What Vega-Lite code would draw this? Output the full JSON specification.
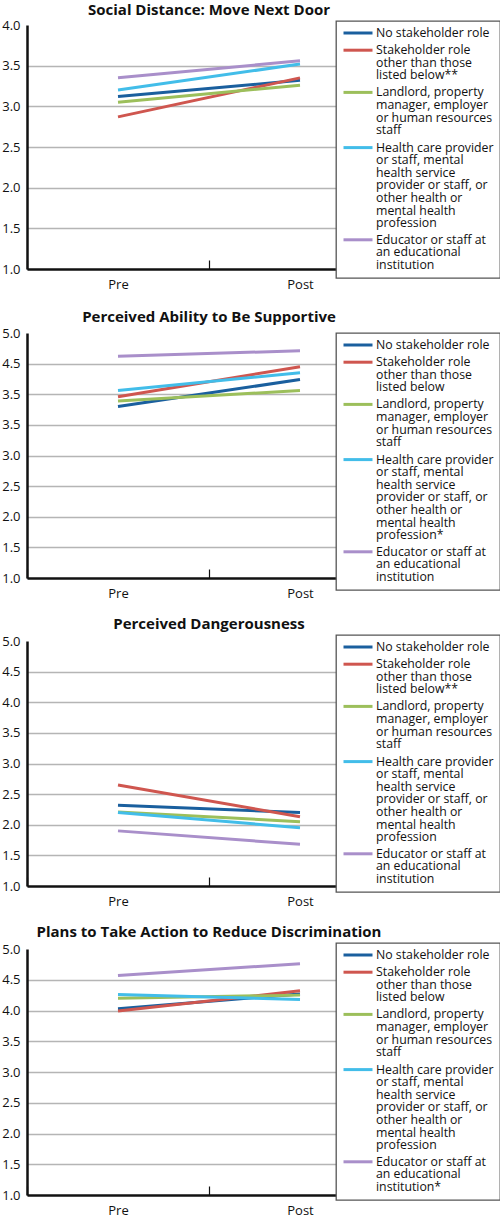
{
  "$schema": "https://vega.github.io/schema/vega-lite/v6.json",
  "background": "white",
  "padding": {"left": 1, "top": 2, "right": 2, "bottom": 0},
  "config": {
    "font": "Open Sans",
    "view": {"stroke": null},
    "axis": {"labelFont": "Open Sans", "labelFontSize": 13, "labelColor": "#111111", "title": null},
    "axisY": {"grid": true, "gridWidth": 1.5, "domainColor": "#111111", "domainWidth": 2.5, "ticks": false, "labelPadding": 7},
    "axisX": {"grid": false, "domainColor": "#111111", "domainWidth": 2.5, "tickBand": "extent", "tickSize": -9, "tickColor": "#111111", "tickWidth": 1.2, "labelPadding": 18, "labelAngle": 0},
    "title": {"font": "Open Sans", "fontSize": 15, "fontWeight": "bold", "anchor": "middle", "color": "#111111", "offset": 2.5},
    "legend": {
      "orient": "none", "title": null, "fillColor": "white", "strokeColor": "#555555", "padding": 6,
      "symbolType": "stroke", "symbolSize": 841, "symbolStrokeWidth": 3, "symbolOffset": 0,
      "labelOffset": 2, "labelFont": "Open Sans", "labelFontSize": 12.3, "labelColor": "#111111",
      "labelBaseline": "top", "labelLimit": 200, "rowPadding": 4.2
    }
  },
  "data": {"values": [
    {"panel": 1, "role": "No stakeholder role", "time": "Pre", "score": 3.12},
    {"panel": 1, "role": "No stakeholder role", "time": "Post", "score": 3.32},
    {"panel": 1, "role": "Stakeholder role other than those listed below", "time": "Pre", "score": 2.87},
    {"panel": 1, "role": "Stakeholder role other than those listed below", "time": "Post", "score": 3.35},
    {"panel": 1, "role": "Landlord, property manager, employer or human resources staff", "time": "Pre", "score": 3.05},
    {"panel": 1, "role": "Landlord, property manager, employer or human resources staff", "time": "Post", "score": 3.26},
    {"panel": 1, "role": "Health care provider or staff, mental health service provider or staff, or other health or mental health profession", "time": "Pre", "score": 3.20},
    {"panel": 1, "role": "Health care provider or staff, mental health service provider or staff, or other health or mental health profession", "time": "Post", "score": 3.52},
    {"panel": 1, "role": "Educator or staff at an educational institution", "time": "Pre", "score": 3.35},
    {"panel": 1, "role": "Educator or staff at an educational institution", "time": "Post", "score": 3.56},
    {"panel": 2, "role": "No stakeholder role", "time": "Pre", "score": 3.80},
    {"panel": 2, "role": "No stakeholder role", "time": "Post", "score": 4.24},
    {"panel": 2, "role": "Stakeholder role other than those listed below", "time": "Pre", "score": 3.96},
    {"panel": 2, "role": "Stakeholder role other than those listed below", "time": "Post", "score": 4.45},
    {"panel": 2, "role": "Landlord, property manager, employer or human resources staff", "time": "Pre", "score": 3.89},
    {"panel": 2, "role": "Landlord, property manager, employer or human resources staff", "time": "Post", "score": 4.06},
    {"panel": 2, "role": "Health care provider or staff, mental health service provider or staff, or other health or mental health profession", "time": "Pre", "score": 4.06},
    {"panel": 2, "role": "Health care provider or staff, mental health service provider or staff, or other health or mental health profession", "time": "Post", "score": 4.35},
    {"panel": 2, "role": "Educator or staff at an educational institution", "time": "Pre", "score": 4.62},
    {"panel": 2, "role": "Educator or staff at an educational institution", "time": "Post", "score": 4.71},
    {"panel": 3, "role": "No stakeholder role", "time": "Pre", "score": 2.32},
    {"panel": 3, "role": "No stakeholder role", "time": "Post", "score": 2.20},
    {"panel": 3, "role": "Stakeholder role other than those listed below", "time": "Pre", "score": 2.65},
    {"panel": 3, "role": "Stakeholder role other than those listed below", "time": "Post", "score": 2.13},
    {"panel": 3, "role": "Landlord, property manager, employer or human resources staff", "time": "Pre", "score": 2.21},
    {"panel": 3, "role": "Landlord, property manager, employer or human resources staff", "time": "Post", "score": 2.05},
    {"panel": 3, "role": "Health care provider or staff, mental health service provider or staff, or other health or mental health profession", "time": "Pre", "score": 2.20},
    {"panel": 3, "role": "Health care provider or staff, mental health service provider or staff, or other health or mental health profession", "time": "Post", "score": 1.95},
    {"panel": 3, "role": "Educator or staff at an educational institution", "time": "Pre", "score": 1.90},
    {"panel": 3, "role": "Educator or staff at an educational institution", "time": "Post", "score": 1.68},
    {"panel": 4, "role": "No stakeholder role", "time": "Pre", "score": 4.03},
    {"panel": 4, "role": "No stakeholder role", "time": "Post", "score": 4.27},
    {"panel": 4, "role": "Stakeholder role other than those listed below", "time": "Pre", "score": 3.99},
    {"panel": 4, "role": "Stakeholder role other than those listed below", "time": "Post", "score": 4.32},
    {"panel": 4, "role": "Landlord, property manager, employer or human resources staff", "time": "Pre", "score": 4.20},
    {"panel": 4, "role": "Landlord, property manager, employer or human resources staff", "time": "Post", "score": 4.25},
    {"panel": 4, "role": "Health care provider or staff, mental health service provider or staff, or other health or mental health profession", "time": "Pre", "score": 4.26},
    {"panel": 4, "role": "Health care provider or staff, mental health service provider or staff, or other health or mental health profession", "time": "Post", "score": 4.18},
    {"panel": 4, "role": "Educator or staff at an educational institution", "time": "Pre", "score": 4.57},
    {"panel": 4, "role": "Educator or staff at an educational institution", "time": "Post", "score": 4.76}
  ]},
  "spacing": 18,
  "resolve": {"legend": {"color": "independent"}, "scale": {"color": "independent", "y": "independent"}},
  "vconcat": [
    {
      "title": {"text": "Social Distance: Move Next Door", "offset": 1.5},
      "width": 364, "height": 244,
      "transform": [{"filter": "datum.panel == 1"}],
      "mark": {"type": "line", "strokeWidth": 3},
      "encoding": {
        "x": {"field": "time", "type": "nominal", "sort": ["Pre", "Post"], "scale": {"type": "band", "paddingInner": 0, "paddingOuter": 0}, "bandPosition": 0.5},
        "y": {"field": "score", "type": "quantitative", "scale": {"domain": [1, 4], "nice": false, "zero": false},
              "axis": {"values": [1, 1.5, 2, 2.5, 3, 3.5, 4], "format": ".1f", "gridColor": {"condition": {"test": "datum.value >= 4 || datum.value <= 1", "value": "transparent"}, "value": "#b5b5b5"}}},
        "color": {"field": "role", "type": "nominal",
          "scale": {"domain": ["No stakeholder role", "Stakeholder role other than those listed below", "Landlord, property manager, employer or human resources staff", "Health care provider or staff, mental health service provider or staff, or other health or mental health profession", "Educator or staff at an educational institution"],
                    "range": ["#1a5f9e", "#cf564f", "#9cbf5b", "#42bde9", "#a98fca"]},
          "legend": {"legendX": 309, "legendY": -4,
            "labelExpr": "[['No stakeholder role'], ['Stakeholder role', 'other than those', 'listed below**'], ['Landlord, property', 'manager, employer', 'or human resources', 'staff'], ['Health care provider', 'or staff, mental', 'health service', 'provider or staff, or', 'other health or', 'mental health', 'profession'], ['Educator or staff at', 'an educational', 'institution']][datum.index]",
            "encode": {"symbols": {"update": {"y": {"value": 6}}}, "labels": {"update": {"y": {"value": 0}, "lineHeight": {"value": 12.6}}}, "legend": {"update": {"strokeWidth": {"value": 1.3}}}}}
        }
      }
    },
    {
      "spacing": 16,
      "resolve": {"legend": {"color": "independent"}, "scale": {"color": "independent", "y": "independent"}},
      "vconcat": [
        {
          "title": "Perceived Ability to Be Supportive",
          "width": 364, "height": 245,
          "transform": [{"filter": "datum.panel == 2"}],
          "mark": {"type": "line", "strokeWidth": 3},
          "encoding": {
            "x": {"field": "time", "type": "nominal", "sort": ["Pre", "Post"], "scale": {"type": "band", "paddingInner": 0, "paddingOuter": 0}, "bandPosition": 0.5},
            "y": {"field": "score", "type": "quantitative", "scale": {"domain": [1, 5], "nice": false, "zero": false},
                  "axis": {"values": [1, 1.5, 2, 2.5, 3, 3.5, 4, 4.5, 5], "labelExpr": "datum.value == 4 ? '3.5' : format(datum.value, '.1f')", "gridColor": {"condition": {"test": "datum.value >= 5 || datum.value <= 1", "value": "transparent"}, "value": "#b5b5b5"}}},
            "color": {"field": "role", "type": "nominal",
              "scale": {"domain": ["No stakeholder role", "Stakeholder role other than those listed below", "Landlord, property manager, employer or human resources staff", "Health care provider or staff, mental health service provider or staff, or other health or mental health profession", "Educator or staff at an educational institution"],
                        "range": ["#1a5f9e", "#cf564f", "#9cbf5b", "#42bde9", "#a98fca"]},
              "legend": {"legendX": 309, "legendY": 0,
                "labelExpr": "[['No stakeholder role'], ['Stakeholder role', 'other than those', 'listed below'], ['Landlord, property', 'manager, employer', 'or human resources', 'staff'], ['Health care provider', 'or staff, mental', 'health service', 'provider or staff, or', 'other health or', 'mental health', 'profession*'], ['Educator or staff at', 'an educational', 'institution']][datum.index]",
                "encode": {"symbols": {"update": {"y": {"value": 6}}}, "labels": {"update": {"y": {"value": 0}, "lineHeight": {"value": 12.6}}}, "legend": {"update": {"strokeWidth": {"value": 1.3}}}}}
            }
          }
        },
        {
          "title": "Perceived Dangerousness",
          "width": 364, "height": 245,
          "transform": [{"filter": "datum.panel == 3"}],
          "mark": {"type": "line", "strokeWidth": 3},
          "encoding": {
            "x": {"field": "time", "type": "nominal", "sort": ["Pre", "Post"], "scale": {"type": "band", "paddingInner": 0, "paddingOuter": 0}, "bandPosition": 0.5},
            "y": {"field": "score", "type": "quantitative", "scale": {"domain": [1, 5], "nice": false, "zero": false},
                  "axis": {"values": [1, 1.5, 2, 2.5, 3, 3.5, 4, 4.5, 5], "format": ".1f", "gridColor": {"condition": {"test": "datum.value >= 5 || datum.value <= 1", "value": "transparent"}, "value": "#b5b5b5"}}},
            "color": {"field": "role", "type": "nominal",
              "scale": {"domain": ["No stakeholder role", "Stakeholder role other than those listed below", "Landlord, property manager, employer or human resources staff", "Health care provider or staff, mental health service provider or staff, or other health or mental health profession", "Educator or staff at an educational institution"],
                        "range": ["#1a5f9e", "#cf564f", "#9cbf5b", "#42bde9", "#a98fca"]},
              "legend": {"legendX": 309, "legendY": -6,
                "labelExpr": "[['No stakeholder role'], ['Stakeholder role', 'other than those', 'listed below**'], ['Landlord, property', 'manager, employer', 'or human resources', 'staff'], ['Health care provider', 'or staff, mental', 'health service', 'provider or staff, or', 'other health or', 'mental health', 'profession'], ['Educator or staff at', 'an educational', 'institution']][datum.index]",
                "encode": {"symbols": {"update": {"y": {"value": 6}}}, "labels": {"update": {"y": {"value": 0}, "lineHeight": {"value": 12.6}}}, "legend": {"update": {"strokeWidth": {"value": 1.3}}}}}
            }
          }
        },
        {
          "title": "Plans to Take Action to Reduce Discrimination",
          "width": 364, "height": 246,
          "transform": [{"filter": "datum.panel == 4"}],
          "mark": {"type": "line", "strokeWidth": 3},
          "encoding": {
            "x": {"field": "time", "type": "nominal", "sort": ["Pre", "Post"], "scale": {"type": "band", "paddingInner": 0, "paddingOuter": 0}, "bandPosition": 0.5},
            "y": {"field": "score", "type": "quantitative", "scale": {"domain": [1, 5], "nice": false, "zero": false},
                  "axis": {"values": [1, 1.5, 2, 2.5, 3, 3.5, 4, 4.5, 5], "format": ".1f", "gridColor": {"condition": {"test": "datum.value >= 5 || datum.value <= 1", "value": "transparent"}, "value": "#b5b5b5"}}},
            "color": {"field": "role", "type": "nominal",
              "scale": {"domain": ["No stakeholder role", "Stakeholder role other than those listed below", "Landlord, property manager, employer or human resources staff", "Health care provider or staff, mental health service provider or staff, or other health or mental health profession", "Educator or staff at an educational institution"],
                        "range": ["#1a5f9e", "#cf564f", "#9cbf5b", "#42bde9", "#a98fca"]},
              "legend": {"legendX": 309, "legendY": -6,
                "labelExpr": "[['No stakeholder role'], ['Stakeholder role', 'other than those', 'listed below'], ['Landlord, property', 'manager, employer', 'or human resources', 'staff'], ['Health care provider', 'or staff, mental', 'health service', 'provider or staff, or', 'other health or', 'mental health', 'profession'], ['Educator or staff at', 'an educational', 'institution*']][datum.index]",
                "encode": {"symbols": {"update": {"y": {"value": 6}}}, "labels": {"update": {"y": {"value": 0}, "lineHeight": {"value": 12.6}}}, "legend": {"update": {"strokeWidth": {"value": 1.3}}}}}
            }
          }
        }
      ]
    }
  ]
}
